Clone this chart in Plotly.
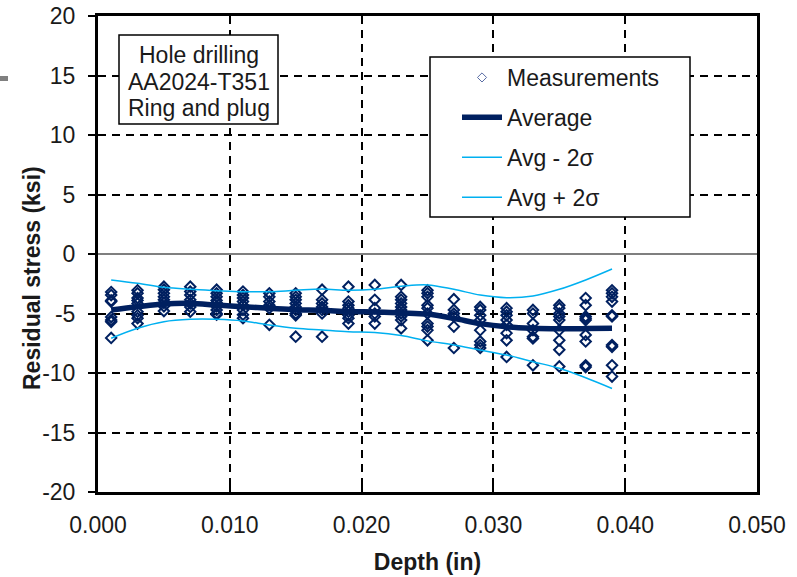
import plotly.graph_objects as go

# ---------------- data ----------------
depths = [0.001, 0.003, 0.005, 0.007, 0.009, 0.011, 0.013, 0.015, 0.017, 0.019,
          0.021, 0.023, 0.025, 0.027, 0.029, 0.031, 0.033, 0.035, 0.037, 0.039]

measurements = [
    [-3.2, -3.45, -3.9, -4.0, -5.3, -5.55, -5.7, -7.05],
    [-3.05, -3.3, -3.7, -3.9, -4.15, -4.85, -5.15, -5.4, -5.85],
    [-2.75, -3.0, -3.3, -3.6, -3.85, -4.1, -4.4, -4.8],
    [-2.75, -3.15, -3.45, -3.85, -4.15, -4.45, -4.85],
    [-3.0, -3.3, -3.6, -3.9, -4.1, -4.4, -4.7, -5.0, -5.1],
    [-3.15, -3.45, -3.7, -4.0, -4.3, -4.7, -5.1, -5.4],
    [-3.3, -3.6, -4.0, -4.3, -4.55, -5.95],
    [-3.3, -3.6, -3.85, -4.15, -4.45, -4.7, -5.0, -5.15, -6.95],
    [-3.0, -3.85, -4.15, -4.45, -4.7, -5.0, -6.95],
    [-2.75, -4.0, -4.3, -4.55, -4.85, -5.15, -5.4, -5.85],
    [-2.6, -3.85, -4.55, -5.0, -5.25, -5.85],
    [-2.6, -3.6, -3.85, -4.15, -4.45, -4.7, -5.0, -5.25, -5.55, -6.25],
    [-3.05, -3.3, -3.6, -4.3, -4.55, -5.0, -5.85, -6.1, -6.4, -7.25],
    [-3.8, -4.7, -5.0, -5.25, -6.1, -7.9],
    [-4.45, -4.7, -5.15, -5.55, -6.4, -7.35, -7.65, -7.9],
    [-4.55, -4.85, -5.15, -5.55, -5.95, -6.65, -7.25, -8.65],
    [-4.7, -5.0, -5.85, -6.4, -6.95, -7.1, -9.35],
    [-4.3, -4.55, -5.0, -5.25, -5.55, -6.4, -7.25, -8.05, -9.45],
    [-3.7, -4.3, -5.25, -5.4, -5.55, -6.8, -7.35, -9.35, -9.5],
    [-3.05, -3.3, -3.6, -4.0, -5.15, -5.25, -7.65, -7.8, -9.35, -10.3],
]

average = [-4.7, -4.43, -4.2, -4.15, -4.29, -4.43, -4.56, -4.68, -4.72, -4.85,
           -4.87, -4.95, -5.05, -5.41, -5.85, -6.12, -6.24, -6.28, -6.27, -6.24]
avg_minus_2s = [-7.08, -6.24, -5.69, -5.49, -5.49, -5.63, -5.97, -6.24, -6.39, -6.53,
                -6.6, -6.85, -7.3, -7.65, -8.07, -8.49, -9.05, -9.6, -10.4, -11.3]
avg_plus_2s = [-2.18, -2.46, -2.8, -2.97, -3.08, -3.17, -3.17, -3.05, -2.95, -3.05,
               -2.97, -2.72, -2.6, -2.97, -3.45, -3.67, -3.53, -2.97, -2.18, -1.26]

x_tickvals = [0.0, 0.01, 0.02, 0.03, 0.04, 0.05]
x_ticktext = ["0.000", "0.010", "0.020", "0.030", "0.040", "0.050"]
y_tickvals = [-20, -15, -10, -5, 0, 5, 10, 15, 20]
y_ticktext = ["-20", "-15", "-10", "-5", "0", "5", "10", "15", "20"]

info_lines = ["Hole drilling", "AA2024-T351", "Ring and plug"]

# ---------------- figure ----------------
FONT = "Arial, Liberation Sans, sans-serif"
NAVY = "#002060"
LIGHT = "#00B0F0"

W, H = 797, 577
L, R, T, B = 98, 40, 16, 85
PW, PH = W - L - R, H - T - B


def px_x(x):
    return (x - L) / PW


def px_y(y):
    return 1 - (y - T) / PH


mx, my = [], []
for d, vals in zip(depths, measurements):
    for v in vals:
        mx.append(d)
        my.append(v)

fig = go.Figure()

fig.add_trace(go.Scatter(
    x=mx, y=my, mode="markers", showlegend=False,
    marker=dict(symbol="diamond-open", size=8, color=NAVY, line=dict(width=2, color=NAVY)),
))
# legend-only entry with the small thin diamond as in the reference
fig.add_trace(go.Scatter(
    x=[None], y=[None], mode="markers", name="Measurements",
    marker=dict(symbol="diamond-open", size=7, color="#5a6ea5", line=dict(width=1, color="#5a6ea5")),
    legendgroup="a",
))
fig.add_trace(go.Scatter(
    x=depths, y=average, mode="lines", name="Average",
    line=dict(color=NAVY, width=5.5, shape="spline", smoothing=1), legendgroup="b",
))
fig.add_trace(go.Scatter(
    x=depths, y=avg_minus_2s, mode="lines", name="Avg - 2σ",
    line=dict(color=LIGHT, width=1.5, shape="spline", smoothing=1), legendgroup="c",
))
fig.add_trace(go.Scatter(
    x=depths, y=avg_plus_2s, mode="lines", name="Avg + 2σ",
    line=dict(color=LIGHT, width=1.5, shape="spline", smoothing=1), legendgroup="d",
))

axis_common = dict(
    showline=True, linecolor="black", linewidth=3, mirror=True,
    showgrid=True, gridcolor="black", gridwidth=1.5, griddash="8px,6px",
    ticklen=7, tickwidth=1.5, tickcolor="black", automargin=False,
    tickfont=dict(family=FONT, size=23, color="#1a1a1a"),
)

fig.update_xaxes(
    range=[0, 0.05], tickvals=x_tickvals, ticktext=x_ticktext,
    ticks="inside", zeroline=False, ticklabelstandoff=10,
    title=dict(text="Depth (in)", font=dict(family=FONT, size=23, color="#1a1a1a", weight="bold"),
               standoff=18),
    **axis_common,
)
fig.update_yaxes(
    range=[-20, 20], tickvals=y_tickvals, ticktext=y_ticktext,
    ticks="outside", zeroline=True, zerolinecolor="#7f7f7f", zerolinewidth=1.5,
    ticklabelstandoff=8,
    **axis_common,
)

shapes = [
    # legend frame
    dict(type="rect", xref="paper", yref="paper", layer="above",
         x0=px_x(430), x1=px_x(690), y0=px_y(217), y1=px_y(57),
         line=dict(color="black", width=1.5), fillcolor="white"),
    # info box frame
    dict(type="rect", xref="paper", yref="paper", layer="above",
         x0=px_x(119), x1=px_x(278), y0=px_y(124), y1=px_y(35),
         line=dict(color="black", width=1.5), fillcolor="white"),
    # small grey dash at left edge
    dict(type="rect", xref="paper", yref="paper", layer="above",
         x0=px_x(0), x1=px_x(8), y0=px_y(81), y1=px_y(76),
         line=dict(width=0), fillcolor="#808080"),
]

annotations = [
    dict(text="Residual stress (ksi)", xref="paper", yref="paper",
         x=px_x(32), y=px_y(278), textangle=-90, showarrow=False,
         xanchor="center", yanchor="middle",
         font=dict(family=FONT, size=23, color="#1a1a1a", weight="bold")),
]
for i, line in enumerate(info_lines):
    annotations.append(dict(
        text=line, xref="paper", yref="paper", x=px_x(198.5), y=px_y(55 + 26.7 * i),
        showarrow=False, xanchor="center", yanchor="middle",
        font=dict(family=FONT, size=23, color="#1a1a1a"),
    ))

fig.update_layout(
    width=W, height=H,
    margin=dict(l=L, r=R, t=T, b=B, autoexpand=False),
    paper_bgcolor="white", plot_bgcolor="white",
    shapes=shapes, annotations=annotations,
    showlegend=True,
    legend=dict(
        x=px_x(457), y=px_y(56), xanchor="left", yanchor="top",
        bgcolor="rgba(0,0,0,0)", borderwidth=0,
        font=dict(family=FONT, size=23, color="#1a1a1a"),
        traceorder="grouped", tracegroupgap=7, itemwidth=40,
    ),
)

fig.write_html("out.html")
